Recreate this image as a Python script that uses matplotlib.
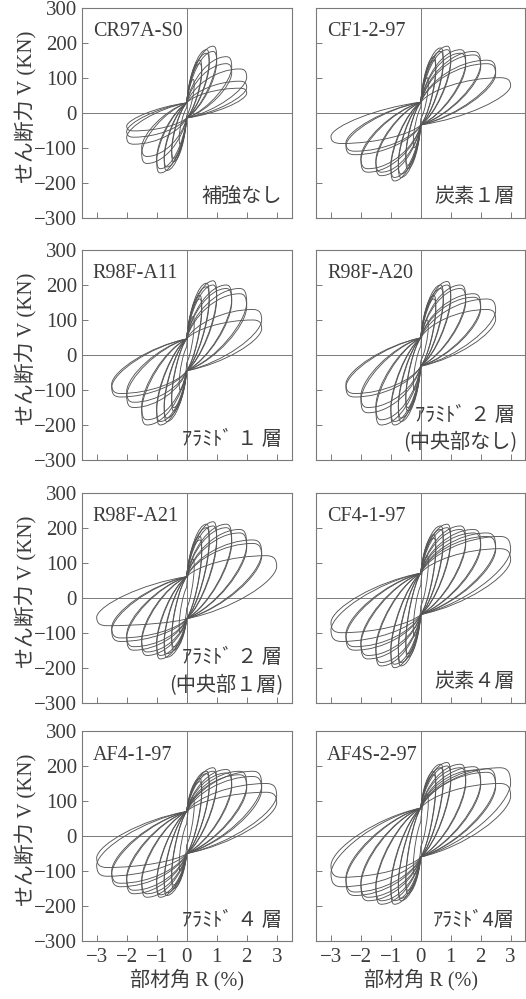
import matplotlib
matplotlib.use("Agg")
import matplotlib.pyplot as plt
from matplotlib.path import Path
from matplotlib.patches import PathPatch

plt.rcParams['font.family'] = ['Liberation Serif', 'Noto Sans CJK JP']
plt.rcParams['axes.unicode_minus'] = True

# ---------------- data ----------------
specimens = ['CR97A-S0', 'CF1-2-97', 'R98F-A11', 'R98F-A20',
             'R98F-A21', 'CF4-1-97', 'AF4-1-97', 'AF4S-2-97']
notes = [['補強なし'], ['炭素１層'], ['ｱﾗﾐﾄﾞ １ 層'], ['ｱﾗﾐﾄﾞ ２ 層', '(中央部なし)'],
         ['ｱﾗﾐﾄﾞ ２ 層', '(中央部１層)'], ['炭素４層'], ['ｱﾗﾐﾄﾞ ４ 層'], ['ｱﾗﾐﾄﾞ4層']]

y_ticks = [-300, -200, -100, 0, 100, 200, 300]
x_ticks = [-3, -2, -1, 0, 1, 2, 3]
y_label = 'せん断力 V (KN)'
x_label = '部材角 R (%)'

# cycle peak drift (%), positive peak shear (kN), negative peak shear (kN)
cr97a_drift = [0.25, 0.5, 0.5, 0.75, 0.75, 1.0, 1.0, 1.5, 1.5, 2.0, 2.0, 2.0]
cr97a_pos = [95, 150, 140, 180, 170, 190, 175, 160, 140, 125, 90, 70]
cr97a_neg = [-90, -140, -130, -165, -155, -172, -160, -145, -125, -90, -70, -52]

cf12_drift = [0.25, 0.5, 0.5, 0.75, 0.75, 1.0, 1.0, 1.5, 1.5, 2.0, 2.0, 2.5, 2.5, 3.0]
cf12_pos = [100, 160, 150, 185, 175, 190, 180, 180, 170, 175, 165, 150, 140, 100]
cf12_neg = [-100, -160, -150, -185, -175, -195, -185, -180, -170, -170, -160, -120, -110, -88]

a11_drift = [0.25, 0.5, 0.5, 0.75, 0.75, 1.0, 1.0, 1.5, 1.5, 2.0, 2.0, 2.5, 2.5]
a11_pos = [110, 170, 160, 205, 195, 212, 200, 200, 190, 190, 175, 130, 100]
a11_neg = [-100, -160, -150, -190, -180, -200, -190, -200, -185, -150, -135, -120, -110]

a20_drift = [0.25, 0.5, 0.5, 0.75, 0.75, 1.0, 1.0, 1.5, 1.5, 2.0, 2.0, 2.5, 2.5]
a20_pos = [100, 170, 160, 200, 190, 210, 200, 200, 190, 175, 165, 160, 130]
a20_neg = [-100, -160, -150, -190, -180, -200, -190, -200, -185, -165, -150, -120, -110]

a21_drift = [0.25, 0.5, 0.5, 0.75, 0.75, 1.0, 1.0, 1.5, 1.5, 2.0, 2.0, 2.5, 2.5, 3.0]
a21_pos = [110, 175, 165, 210, 200, 217, 205, 210, 200, 195, 185, 165, 155, 120]
a21_neg = [-100, -150, -140, -170, -160, -175, -165, -165, -155, -150, -140, -125, -115, -80]

cf41_drift = [0.25, 0.5, 0.5, 0.75, 0.75, 1.0, 1.0, 1.5, 1.5, 2.0, 2.0, 2.5, 2.5, 3.0, 3.0]
cf41_pos = [120, 180, 170, 205, 195, 210, 200, 205, 195, 195, 185, 185, 175, 175, 140]
cf41_neg = [-110, -170, -160, -195, -185, -200, -190, -195, -185, -175, -165, -150, -140, -125, -100]

af41_drift = [0.25, 0.5, 0.5, 0.75, 0.75, 1.0, 1.0, 1.5, 1.5, 2.0, 2.0, 2.5, 2.5, 3.0, 3.0]
af41_pos = [110, 165, 155, 185, 178, 195, 185, 190, 180, 185, 175, 185, 170, 150, 125]
af41_neg = [-100, -150, -140, -170, -162, -175, -168, -175, -165, -165, -155, -145, -135, -115, -90]

af4s_drift = [0.25, 0.5, 0.5, 0.75, 0.75, 1.0, 1.0, 1.5, 1.5, 2.0, 2.0, 2.5, 2.5, 3.0, 3.0]
af4s_pos = [120, 185, 175, 205, 195, 210, 200, 205, 195, 198, 188, 192, 182, 195, 150]
af4s_neg = [-110, -165, -155, -185, -178, -195, -185, -195, -185, -185, -175, -170, -160, -145, -118]

# pinching shear at zero drift (kN)
pinch_pos = [28, 30, 46, 49, 60, 70, 70, 80]
pinch_neg = [-15, -35, -45, -32, -60, -48, -50, -60]

panels = [
    (cr97a_drift, cr97a_pos, cr97a_neg),
    (cf12_drift, cf12_pos, cf12_neg),
    (a11_drift, a11_pos, a11_neg),
    (a20_drift, a20_pos, a20_neg),
    (a21_drift, a21_pos, a21_neg),
    (cf41_drift, cf41_pos, cf41_neg),
    (af41_drift, af41_pos, af41_neg),
    (af4s_drift, af4s_pos, af4s_neg),
]

# ---------------- drawing ----------------
LINE = '#555555'
FRAME = '#7a7a7a'
TEXT = '#3c3c3c'


def loop_path(d, fp, fn, pp, pn):
    """Pinched hysteresis cycle drawn with Bezier segments through the peaks."""
    dU = fp - pp
    dL = fp - pn
    eU = pp - fn
    eL = pn - fn
    v = [(0, pp),
         # reloading to the positive peak
         (0.1 * d, pp + 0.5 * dU), (0.5 * d, fp), (0.88 * d, fp),
         # rounded nose
         (0.97 * d, fp), (d, fp - 0.05 * dL), (d, fp - 0.18 * dL),
         # unloading towards the lower pinch point
         (0.98 * d, fp - 0.42 * dL), (0.5 * d, pn + 0.14 * dL), (0, pn),
         # loading to the negative peak
         (-0.1 * d, pn - 0.5 * eL), (-0.5 * d, fn), (-0.88 * d, fn),
         (-0.97 * d, fn), (-d, fn + 0.05 * eU), (-d, fn + 0.18 * eU),
         # unloading towards the upper pinch point
         (-0.98 * d, fn + 0.42 * eU), (-0.5 * d, pp - 0.14 * eU), (0, pp)]
    codes = [Path.MOVETO] + [Path.CURVE4] * 18
    return Path(v, codes)


W, H = 526, 999
fig = plt.figure(figsize=(W / 100, H / 100), dpi=100)
fig.patch.set_facecolor('white')

col_left = [81.7, 316.0]
row_top = [7.7, 250.0, 492.7, 731.0]
size = 210.0

for i, (drift, pos, neg) in enumerate(panels):
    r, c = divmod(i, 2)
    x0 = col_left[c]
    w = size if c == 0 else 209.0
    ax = fig.add_axes([x0 / W, 1 - (row_top[r] + size) / H, w / W, size / H])
    ax.set_xlim(-3.5, 3.5 if c == 0 else 3.48)
    ax.set_ylim(-300, 300)
    ax.axhline(0, color=FRAME, lw=0.7, zorder=1)
    ax.axvline(0, color=FRAME, lw=0.7, zorder=1)
    for d, fp, fn in zip(drift, pos, neg):
        s = min(1.0, d / 0.5)
        patch = PathPatch(loop_path(d, fp, fn, pinch_pos[i] * s, pinch_neg[i] * s),
                          facecolor='none', edgecolor=LINE, lw=0.65, zorder=2)
        ax.add_patch(patch)
    for sp in ax.spines.values():
        sp.set_color(FRAME)
        sp.set_linewidth(0.8)
    ax.set_yticks(y_ticks)
    ax.set_xticks(x_ticks)
    ax.tick_params(direction='in', length=4, width=0.7, color=FRAME,
                   labelsize=15, labelcolor=TEXT, pad=3.5)
    ax.tick_params(axis='x', pad=5)
    if c == 1:
        ax.set_yticklabels([])
    else:
        ax.text(-0.265, 0.53, y_label, transform=ax.transAxes, rotation=90,
                ha='center', va='center', fontsize=15, color=TEXT)
    if r < 3:
        ax.set_xticklabels([])
    else:
        ax.text(0.5, -0.185, x_label, transform=ax.transAxes,
                ha='center', va='center', fontsize=14.5, color=TEXT)
    ax.text(11 / size, 1 - 24 / size, specimens[i], transform=ax.transAxes,
            ha='left', va='center', fontsize=14.5, color=TEXT)
    lines = notes[i]
    if len(lines) == 1:
        ax.text(1 - 10 / w, 21 / size, lines[0], transform=ax.transAxes,
                ha='right', va='center', fontsize=14.5, color=TEXT,
                family=['Noto Sans CJK JP'])
    else:
        ax.text(1 - 10 / w, 45 / size, lines[0], transform=ax.transAxes,
                ha='right', va='center', fontsize=14.5, color=TEXT,
                family=['Noto Sans CJK JP'])
        ax.text(1 - 8 / w, 17 / size, lines[1], transform=ax.transAxes,
                ha='right', va='center', fontsize=14.5, color=TEXT,
                family=['Noto Sans CJK JP'])

fig.savefig('out.png', dpi=100, facecolor='white')
